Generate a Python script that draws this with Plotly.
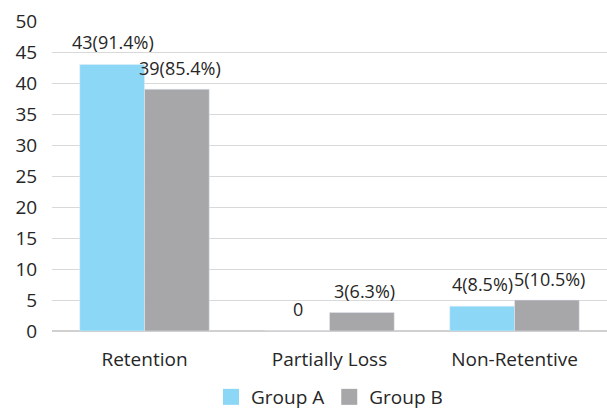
import plotly.graph_objects as go

categories = ["Retention", "Partially Loss", "Non-Retentive"]
group_a = [43, 0, 4]
group_b = [39, 3, 5]
labels_a = ["43(91.4%)", "0", "4(8.5%)"]
labels_b = ["39(85.4%)", "3(6.3%)", "5(10.5%)"]
y_ticks = [0, 5, 10, 15, 20, 25, 30, 35, 40, 45, 50]

FONT = "Open Sans"
TXT = "#262626"
COL_A = "#8DD7F6"
COL_B = "#A7A7AA"

fig = go.Figure()
fig.add_trace(go.Bar(name="Group A", x=categories, y=group_a, marker_color=COL_A, showlegend=False))
fig.add_trace(go.Bar(name="Group B", x=categories, y=group_b, marker_color=COL_B, showlegend=False))
# legend entries with larger square swatches
fig.add_trace(go.Scatter(name="Group A", x=[None], y=[None], mode="markers",
                         marker=dict(symbol="square", size=16, color=COL_A)))
fig.add_trace(go.Scatter(name="Group B", x=[None], y=[None], mode="markers",
                         marker=dict(symbol="square", size=16, color=COL_B)))

annotations = []
for cat, v, lab in zip(categories, group_a, labels_a):
    annotations.append(dict(x=cat, y=v, xref="x", yref="y", text=lab, showarrow=False,
                            xshift=-32, yshift=22, font=dict(size=18, color=TXT, family=FONT)))
for cat, v, lab in zip(categories, group_b, labels_b):
    annotations.append(dict(x=cat, y=v, xref="x", yref="y", text=lab, showarrow=False,
                            xshift=35, yshift=21, font=dict(size=18, color=TXT, family=FONT)))

fig.update_layout(
    width=607, height=416,
    margin=dict(l=52, r=0, t=21, b=85, autoexpand=False),
    barmode="group", bargap=0.3, bargroupgap=0,
    plot_bgcolor="white", paper_bgcolor="white",
    font=dict(family=FONT, size=19, color=TXT),
    annotations=annotations,
    legend=dict(orientation="h", x=0.5, xanchor="center", yref="container",
                y=0.0, yanchor="bottom", font=dict(size=19, color=TXT),
                traceorder="normal", tracegroupgap=0),
    xaxis=dict(showgrid=False, showline=False, ticks="outside", ticklen=11,
               tickcolor="rgba(0,0,0,0)", tickfont=dict(size=19), automargin=False),
    yaxis=dict(range=[0, 50], tickvals=y_ticks, showgrid=True, gridcolor="#D9D9D9",
               gridwidth=1, zeroline=True, zerolinecolor="#D0D0D0", zerolinewidth=2,
               ticks="outside", ticklen=10, tickcolor="rgba(0,0,0,0)", tickfont=dict(size=19),
               automargin=False),
)

fig.write_html("out.html")
